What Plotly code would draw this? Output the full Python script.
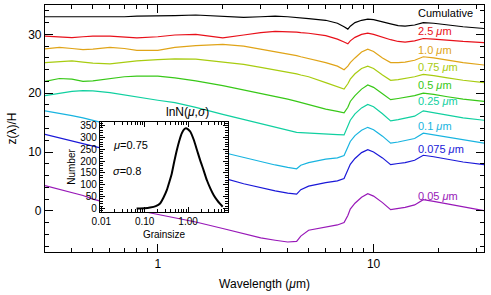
import plotly.graph_objects as go
import math

# ---------------- data ----------------
wavelength = [0.30, 0.35, 0.40, 0.45, 0.50, 0.60, 0.70, 0.80, 1.0, 1.2, 1.5, 2.0, 2.5, 3.0,
              3.5, 4.0, 4.4, 4.6, 5.0, 6.0, 6.8, 7.3, 7.6, 7.8, 8.2, 8.8, 9.4, 10.0, 11.0,
              12.0, 13.0, 14.0, 15.5, 17.0, 19.0, 22.0, 26.0, 32.5]

z_cumulative = [33.0, 33.0, 32.9, 33.0, 33.0, 32.9, 33.0, 33.1, 33.1, 33.2, 33.3, 33.1, 32.9, 33.0,
                33.1, 33.0, 32.9, 32.8, 32.7, 32.4, 31.9, 31.3, 30.9, 31.4, 32.0, 32.4, 32.6, 32.5,
                32.2, 31.8, 31.5, 31.4, 31.6, 32.0, 31.9, 31.6, 31.3, 31.0]
z_2p5 = [29.7, 29.6, 29.45, 29.6, 29.7, 29.7, 29.5, 29.4, 29.6, 29.9, 30.0, 29.4, 29.9, 30.3,
         30.5, 30.5, 30.4, 30.3, 30.2, 29.8, 29.2, 28.7, 28.4, 28.9, 29.5, 30.0, 30.2, 30.0,
         29.5, 29.1, 28.8, 28.7, 28.9, 29.3, 29.2, 29.0, 28.8, 28.6]
z_1p0 = [27.55, 27.8, 27.6, 27.4, 27.5, 27.8, 27.6, 27.3, 27.3, 27.8, 28.1, 28.3, 28.0, 27.5,
         27.1, 26.7, 26.4, 26.2, 25.9, 25.2, 24.6, 24.0, 24.6, 25.2, 26.0, 27.0, 27.5, 27.1,
         26.0, 25.2, 25.2, 25.3, 25.6, 26.2, 26.0, 25.6, 25.2, 24.8]
z_0p75 = [25.2, 25.4, 25.5, 25.3, 25.1, 25.0, 25.3, 25.5, 25.7, 25.85, 25.8, 25.3, 24.9, 24.4,
          24.0, 23.6, 23.3, 23.1, 22.8, 21.8, 21.1, 20.7, 21.6, 22.4, 23.3, 24.2, 24.6, 24.2,
          23.1, 22.2, 22.3, 22.5, 22.8, 23.2, 23.0, 22.6, 22.2, 21.8]
z_0p5 = [22.0, 22.5, 22.4, 22.0, 22.1, 22.5, 22.8, 22.9, 22.9, 22.6, 22.1, 21.3, 20.6, 20.0,
         19.5, 19.0, 18.6, 18.4, 18.0, 17.3, 16.9, 16.65, 17.6, 18.6, 19.6, 20.7, 21.4, 21.0,
         19.9, 18.9, 19.1, 19.3, 19.6, 20.0, 19.8, 19.4, 19.0, 18.6]
z_0p25 = [19.6, 20.0, 20.3, 20.45, 20.4, 20.1, 19.7, 19.3, 18.8, 18.4, 17.6, 16.4, 15.5, 14.8,
          14.2, 13.7, 13.35, 13.3, 13.2, 13.1, 12.95, 12.9, 14.3, 15.4, 16.5, 17.5, 18.1, 17.7,
          16.5, 15.3, 15.5, 15.7, 16.1, 17.0, 16.7, 16.3, 15.8, 15.4]
z_0p1 = [17.0, 16.6, 16.2, 15.8, 15.4, 14.7, 14.1, 13.5, 12.6, 11.9, 11.1, 9.9, 9.1, 8.4,
         7.8, 7.4, 7.15, 7.75, 8.2, 8.8, 9.0, 9.4, 10.7, 11.8, 12.8, 13.7, 14.2, 13.8,
         12.7, 11.5, 11.7, 11.9, 12.3, 13.2, 12.9, 12.5, 12.0, 11.5]
z_0p075 = [13.0, 12.4, 11.8, 11.3, 10.9, 10.2, 9.6, 9.1, 8.2, 7.5, 6.7, 5.6, 4.6, 3.9,
           3.4, 3.0, 2.85, 3.6, 4.2, 4.8, 5.1, 5.5, 6.8, 7.9, 8.9, 9.9, 10.4, 10.0,
           9.0, 7.85, 8.05, 8.2, 8.6, 9.45, 9.2, 8.8, 8.3, 7.85]
z_0p05 = [4.3, 3.7, 3.1, 2.6, 2.0, 1.2, 0.6, 0.1, -0.6, -1.2, -1.9, -3.0, -3.9, -4.6,
          -5.0, -5.3, -5.2, -4.3, -3.3, -2.7, -2.4, -2.0, -0.8, 0.3, 1.3, 2.3, 2.9, 2.5,
          1.4, 0.2, 0.4, 0.6, 1.0, 1.9, 1.6, 1.2, 0.7, 0.05]

series_names = ["Cumulative", "2.5 <i>μ</i>m", "1.0 <i>μ</i>m", "0.75 <i>μ</i>m", "0.5 <i>μ</i>m",
                "0.25 <i>μ</i>m", "0.1 <i>μ</i>m", "0.075 <i>μ</i>m", "0.05 <i>μ</i>m"]
series_values = [z_cumulative, z_2p5, z_1p0, z_0p75, z_0p5, z_0p25, z_0p1, z_0p075, z_0p05]

# inset: lognormal grain size distribution
grainsize = [0.065, 0.10, 0.133, 0.18, 0.226, 0.27, 0.323, 0.37, 0.421, 0.48, 0.551, 0.63,
             0.718, 0.80, 0.889, 1.0, 1.118, 1.35, 1.60, 1.9, 2.27, 2.7, 3.25, 3.9, 4.65,
             5.4, 6.26]
number = [0, 1, 4, 10, 21, 45, 77, 112, 148, 198, 247, 287, 318, 333, 339, 334, 325, 290,
          247, 203, 162, 120, 85, 56, 35, 20, 7]

main_xticks = [1, 10]
inset_xticks = [0.01, 0.1, 1.0]
inset_xticklabels = ["0.01", "0.10", "1.00"]

# ---------------- styles / positions ----------------
colors = ["#000000", "#e8101a", "#e0a418", "#a8cc10", "#38c818",
          "#10d0a0", "#18b4e0", "#1a18d8", "#9818b8"]
label_y = [33.6, 30.5, 27.35, 24.45, 21.45, 18.65, 14.5, 10.55, 2.45]
label_x = 15.8
FONT = "Liberation Sans, Arial, sans-serif"

fig = go.Figure()
for name, vals, col in zip(series_names, series_values, colors):
    fig.add_trace(go.Scatter(x=wavelength, y=vals, mode="lines", name=name,
                             line=dict(color=col, width=1.2),
                             xaxis="x", yaxis="y", showlegend=False))

fig.add_trace(go.Scatter(x=grainsize, y=number, mode="lines",
                         line=dict(color="black", width=2, shape="spline", smoothing=0.6),
                         xaxis="x2", yaxis="y2", showlegend=False))

for name, ly, col in zip(series_names, label_y, colors):
    fig.add_annotation(x=math.log10(label_x), y=ly, xref="x", yref="y", text=name,
                       showarrow=False, xanchor="left", yanchor="middle",
                       font=dict(color=col, size=11, family=FONT))

# inset annotations
fig.add_annotation(x=0.5 * (0.1253 + 0.4169), y=0.5263, xref="paper", yref="paper",
                   text="lnN(<i>μ</i>,<i>σ</i>)", showarrow=False, yanchor="bottom",
                   yshift=1, font=dict(size=12, family=FONT, color="black"))
fig.add_annotation(x=0.1253, y=0.435, xref="paper", yref="paper", text="<i>μ</i>=0.75",
                   showarrow=False, xanchor="left", yanchor="middle", xshift=11,
                   font=dict(size=11, family=FONT, color="black"))
fig.add_annotation(x=0.1253, y=0.328, xref="paper", yref="paper", text="<i>σ</i>=0.8",
                   showarrow=False, xanchor="left", yanchor="middle", xshift=11,
                   font=dict(size=11, family=FONT, color="black"))

axis_common = dict(showline=True, linecolor="black", linewidth=1.2, mirror="ticks",
                   ticks="inside", tickcolor="black", showgrid=False, zeroline=False,
                   automargin=False)

fig.update_layout(
    width=491, height=295,
    margin=dict(l=45, r=7, t=5, b=43),
    paper_bgcolor="white", plot_bgcolor="white",
    font=dict(family=FONT, size=12, color="black"),
    xaxis=dict(type="log", range=[math.log10(0.3), math.log10(32.5)],
               tickvals=main_xticks, ticktext=[str(v) for v in main_xticks],
               ticklen=8, tickwidth=1,
               minor=dict(ticks="inside", ticklen=4, tickcolor="black",
                          tickvals=[0.4, 0.5, 0.6, 0.7, 0.8, 0.9, 2, 3, 4, 5, 6, 7, 8, 9, 20, 30]),
               title=dict(text="Wavelength (<i>μ</i>m)", standoff=10, font=dict(size=12)),
               tickfont=dict(size=12), **axis_common),
    yaxis=dict(range=[-7, 35], tickvals=[0, 10, 20, 30], ticklen=8, tickwidth=1,
               minor=dict(ticks="inside", ticklen=4, tickcolor="black", dtick=2),
               title=dict(text="z(λ)/H", standoff=8, font=dict(size=12)),
               tickfont=dict(size=12), **axis_common),
    xaxis2=dict(type="log", domain=[0.1253, 0.4169], anchor="y2",
                range=[-2.03, 0.92], tickvals=inset_xticks, ticktext=inset_xticklabels,
                ticklen=5, tickwidth=1,
                minor=dict(ticks="inside", ticklen=2.5, tickcolor="black", dtick="D1"),
                title=dict(text="Grainsize", standoff=4, font=dict(size=10)),
                tickfont=dict(size=10), **axis_common),
    yaxis2=dict(domain=[0.162, 0.5263], anchor="x2", range=[-15, 365], dtick=50,
                ticklen=5, tickwidth=1,
                minor=dict(ticks="inside", ticklen=2.5, tickcolor="black", dtick=10),
                title=dict(text="Number", standoff=2, font=dict(size=10)),
                tickfont=dict(size=10), **axis_common),
)

fig.write_html("out.html", config={"displayModeBar": False},
               post_script="document.body.style.margin='0px';document.body.style.padding='0px';")
